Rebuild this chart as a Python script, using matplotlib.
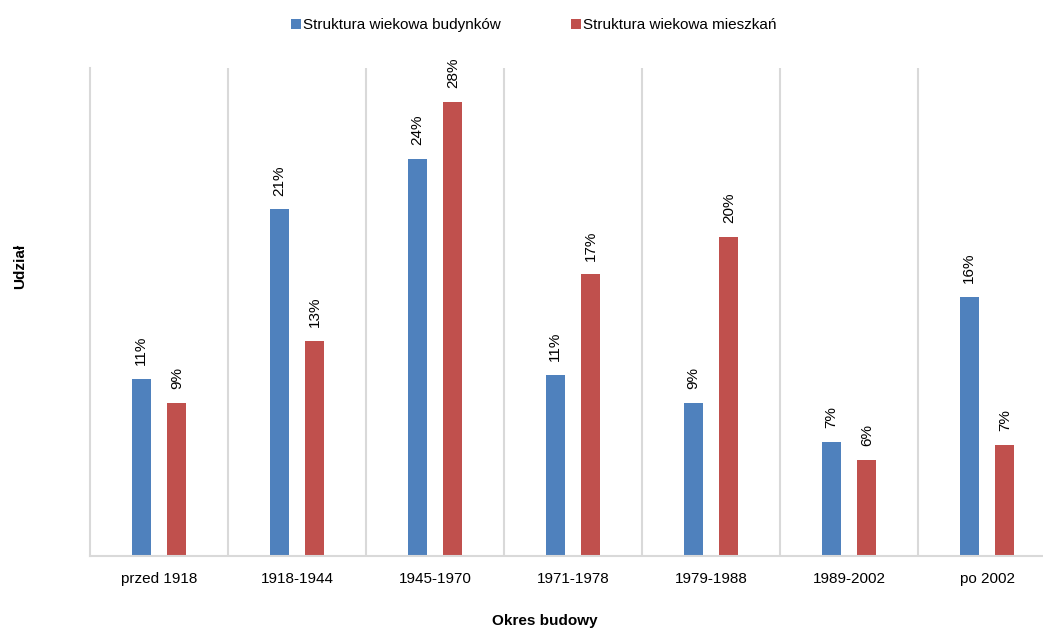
import matplotlib.pyplot as plt
import numpy as np

# dane
okresy = ['przed 1918', '1918-1944', '1945-1970', '1971-1978', '1979-1988', '1989-2002', 'po 2002']
budynki = [10.9, 21.3, 24.4, 11.1, 9.4, 7.0, 15.9]
mieszkania = [9.4, 13.2, 27.9, 17.3, 19.6, 5.9, 6.8]
seria = ['Struktura wiekowa budynków', 'Struktura wiekowa mieszkań']

plt.rcParams['font.family'] = ['Liberation Sans', 'DejaVu Sans']

fig = plt.figure(figsize=(10.43, 6.31), dpi=100)
ax = fig.add_axes([90/1043, 75.3/631, 966/1043, 487.7/631])

x = np.arange(len(okresy))
w = 0.138
b1 = ax.bar(x - 0.13, budynki, w, color='#4F81BD', label=seria[0])
b2 = ax.bar(x + 0.13, mieszkania, w, color='#C0504D', label=seria[1])

for bars, vals in [(b1, budynki), (b2, mieszkania)]:
    for r, v in zip(bars, vals):
        ax.annotate(f'{round(v):.0f}%', (r.get_x() + r.get_width()/2, v),
                    xytext=(0, 10), textcoords='offset points',
                    rotation=90, ha='center', va='bottom', fontsize=11)

ax.set_xlim(-0.5, 6.5)
ax.set_ylim(0, 30)
for g in np.arange(0.5, 6, 1):
    ax.axvline(g, color='#d9d9d9', lw=1.5, zorder=0)

ax.set_yticks([])
ax.set_xticks(x)
ax.set_xticklabels(okresy, fontsize=11)
ax.tick_params(axis='x', length=0, pad=12)
for s in ['top', 'right']:
    ax.spines[s].set_visible(False)
for s in ['left', 'bottom']:
    ax.spines[s].set_color('#d9d9d9')
    ax.spines[s].set_linewidth(1.5)

fig.text(545/1043, 1 - 621/631, 'Okres budowy', ha='center', va='center',
         fontsize=11, fontweight='bold')
fig.text(20/1043, 1 - 266/631, 'Udział', rotation=90, ha='center', va='center',
         fontsize=11, fontweight='bold')

fig.legend(loc='center', bbox_to_anchor=(534/1043, 1 - 25/631), ncol=2, frameon=False,
           fontsize=11, handlelength=0.65, handleheight=0.65, columnspacing=4.6,
           handletextpad=0.15)

plt.savefig('out.png')
